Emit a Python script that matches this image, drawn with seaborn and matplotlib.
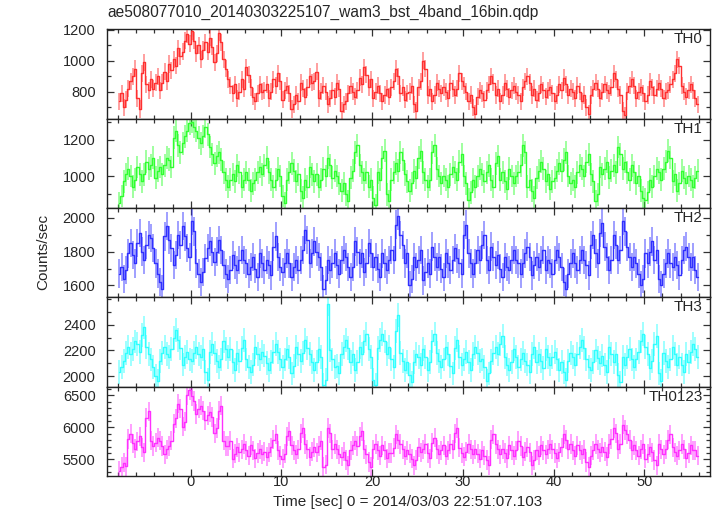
#!/usr/bin/env python3
# coding: utf-8

import numpy as np
import seaborn as sns
import matplotlib
matplotlib.use('Agg')
import matplotlib.pyplot as plt
from matplotlib.ticker import MultipleLocator, FixedLocator


# data: 0.25 s bins, centres from -7.875 to 55.875 s
time = np.arange(-7.875, 56.0, 0.25)

th0 = [740, 790, 700, 750, 820, 870, 900, 950, 760, 690, 920, 990, 850, 810, 880, 820,
       860, 900, 810, 860, 930, 870, 980, 940, 1010, 970, 1080, 1030, 1060, 1130, 1170, 1110,
       1190, 1130, 1050, 1100, 1010, 1070, 1120, 1060, 1150, 1090, 990, 1050, 1180, 1120, 1010, 950,
       880, 840, 790, 850, 760, 800, 880, 820, 960, 910, 830, 770, 740, 790, 850, 800,
       810, 850, 760, 800, 880, 840, 920, 870, 750, 810, 840, 790, 690, 720, 780, 740,
       860, 820, 770, 830, 900, 860, 870, 930, 760, 800, 840, 800, 720, 760, 810, 770,
       860, 820, 680, 720, 740, 790, 840, 800, 770, 810, 890, 850, 960, 910, 830, 880,
       760, 800, 840, 790, 740, 780, 820, 770, 830, 870, 950, 900, 790, 830, 750, 790,
       800, 840, 720, 680, 830, 870, 1000, 950, 780, 820, 740, 780, 860, 820, 790, 830,
       800, 760, 860, 820, 780, 820, 920, 870, 840, 800, 740, 780, 700, 660, 770, 810,
       790, 750, 810, 850, 900, 860, 780, 820, 740, 780, 860, 820, 770, 810, 840, 800,
       780, 740, 830, 870, 900, 860, 780, 820, 750, 790, 850, 810, 770, 810, 830, 790,
       740, 780, 850, 810, 890, 850, 780, 820, 800, 760, 840, 800, 740, 780, 700, 660,
       780, 820, 860, 820, 760, 800, 850, 810, 790, 830, 920, 880, 820, 780, 680, 650,
       800, 840, 880, 840, 760, 800, 830, 790, 740, 780, 870, 830, 780, 820, 860, 820,
       760, 800, 810, 850, 880, 920, 1010, 970, 840, 800, 770, 810, 850, 810, 760, 720]

th1 = [850, 890, 970, 1010, 1040, 1000, 940, 980, 1050, 1010, 970, 1010, 1080, 1040, 1060, 1100,
       990, 1030, 1050, 1010, 1060, 1100, 1090, 1050, 1210, 1250, 1170, 1130, 1180, 1220, 1250, 1290,
       1300, 1270, 1250, 1210, 1180, 1220, 1270, 1230, 1160, 1120, 1070, 1110, 1130, 1090, 1020, 980,
       940, 980, 1010, 970, 1060, 1020, 940, 980, 1020, 980, 920, 960, 980, 1020, 1050, 1010,
       1060, 1100, 1020, 980, 940, 980, 1040, 1000, 890, 850, 980, 1020, 1070, 1030, 970, 1010,
       920, 880, 980, 940, 1050, 1010, 970, 1010, 940, 980, 1040, 1000, 1100, 1060, 990, 1030,
       1000, 960, 920, 960, 900, 860, 990, 1030, 1130, 1170, 1060, 1020, 980, 1020, 940, 980,
       880, 840, 1020, 980, 1100, 1140, 900, 860, 980, 1020, 1070, 1030, 1130, 1090, 1010, 970,
       920, 960, 1030, 990, 1100, 1140, 1020, 980, 940, 980, 1130, 1170, 1040, 1000, 960, 1000,
       980, 940, 1010, 1050, 1020, 980, 1080, 1120, 1000, 960, 870, 910, 980, 940, 1000, 1040,
       1010, 970, 1020, 1060, 980, 940, 1070, 1110, 980, 1020, 970, 930, 1040, 1000, 960, 1000,
       1020, 1060, 1170, 1130, 940, 980, 920, 880, 990, 1030, 1080, 1040, 970, 1010, 930, 970,
       990, 1030, 1070, 1030, 1090, 1130, 1000, 960, 980, 940, 1020, 1060, 1040, 1000, 1080, 1120,
       1010, 970, 860, 900, 1050, 1010, 1040, 1080, 990, 1030, 1060, 1020, 1160, 1120, 1040, 1080,
       1020, 980, 1060, 1020, 960, 1000, 920, 880, 870, 910, 980, 940, 1000, 1040, 1020, 980,
       1040, 1080, 1140, 1100, 970, 1010, 920, 960, 1030, 990, 960, 1000, 980, 940, 990, 1030]

th2 = [1670, 1710, 1640, 1690, 1790, 1850, 1780, 1730, 1850, 1910, 1800, 1750, 1840, 1900, 1880, 1820,
       1730, 1670, 1620, 1580, 1890, 1950, 1870, 1820, 1720, 1780, 1900, 1840, 1950, 1890, 1820, 1770,
       1980, 1920, 1730, 1670, 1620, 1680, 1760, 1820, 1860, 1800, 1740, 1800, 1870, 1810, 1720, 1670,
       1640, 1690, 1780, 1720, 1690, 1750, 1810, 1750, 1730, 1670, 1710, 1770, 1700, 1650, 1790, 1730,
       1690, 1750, 1720, 1660, 1830, 1890, 1770, 1710, 1680, 1730, 1790, 1730, 1650, 1710, 1750, 1690,
       1750, 1810, 1930, 1870, 1730, 1790, 1860, 1800, 1770, 1710, 1580, 1630, 1750, 1690, 1730, 1790,
       1720, 1670, 1750, 1810, 1770, 1710, 1650, 1710, 1860, 1800, 1730, 1790, 1680, 1730, 1850, 1790,
       1710, 1770, 1700, 1650, 1790, 1730, 1690, 1750, 1810, 1750, 1960, 2010, 1900, 1840, 1730, 1790,
       1600, 1640, 1770, 1710, 1750, 1810, 1630, 1680, 1730, 1670, 1830, 1770, 1710, 1770, 1700, 1650,
       1790, 1730, 1690, 1750, 1820, 1760, 1730, 1670, 1900, 1960, 1790, 1730, 1670, 1730, 1810, 1750,
       1840, 1900, 1750, 1690, 1830, 1770, 1720, 1780, 1700, 1650, 1770, 1710, 1690, 1750, 1810, 1750,
       1730, 1670, 1730, 1790, 1830, 1770, 1660, 1720, 1770, 1710, 1750, 1810, 1690, 1750, 1730, 1670,
       1750, 1810, 1770, 1710, 1620, 1580, 1670, 1730, 1790, 1730, 1690, 1750, 1810, 1750, 1720, 1660,
       1840, 1900, 1790, 1730, 1910, 1970, 1830, 1770, 1690, 1750, 1900, 1840, 1750, 1810, 1980, 1920,
       1830, 1770, 1710, 1770, 1730, 1670, 1600, 1640, 1790, 1730, 1800, 1860, 1750, 1810, 1640, 1600,
       1670, 1730, 1790, 1730, 1710, 1770, 1720, 1660, 1750, 1810, 1830, 1770, 1710, 1770, 1690, 1650]

th3 = [2030, 2070, 2120, 2180, 2230, 2170, 2210, 2270, 2250, 2190, 2320, 2380, 2230, 2170, 2130, 2070,
       2000, 1960, 2120, 2180, 2230, 2170, 2150, 2210, 2300, 2360, 2280, 2220, 2090, 2150, 2190, 2130,
       2120, 2180, 2230, 2170, 2150, 2210, 2030, 1970, 2190, 2250, 2180, 2120, 2070, 2130, 2270, 2210,
       2150, 2210, 2110, 2050, 2180, 2120, 2220, 2280, 2130, 2070, 2030, 2090, 2230, 2170, 2130, 2190,
       2160, 2100, 2050, 2110, 2190, 2250, 2190, 2130, 2070, 2130, 2210, 2150, 2020, 2080, 2230, 2170,
       2120, 2180, 2280, 2220, 2170, 2110, 2050, 2110, 2210, 2150, 1930, 1970, 2560, 2200, 2130, 2070,
       2080, 2020, 2170, 2230, 2280, 2220, 2110, 2170, 2050, 2110, 2230, 2170, 2270, 2330, 2210, 2150,
       1970, 1930, 2220, 2280, 2330, 2270, 2170, 2230, 2130, 2070, 2350, 2480, 2180, 2120, 2050, 2110,
       2010, 1950, 2110, 2170, 2150, 2090, 2210, 2150, 2050, 2110, 2270, 2330, 2180, 2120, 2070, 2130,
       2230, 2170, 2080, 2020, 2220, 2280, 2150, 2090, 2130, 2190, 2110, 2050, 2170, 2230, 2180, 2120,
       2130, 2070, 1960, 2020, 2120, 2180, 2230, 2170, 2250, 2310, 2150, 2090, 2050, 2110, 2210, 2150,
       2070, 2130, 2180, 2120, 2090, 2030, 2170, 2230, 2110, 2170, 2120, 2060, 2210, 2150, 2090, 2150,
       2190, 2130, 2050, 2110, 2030, 1970, 2120, 2180, 2150, 2090, 2170, 2230, 2280, 2220, 2130, 2070,
       2050, 2110, 2200, 2140, 2100, 2160, 2090, 2030, 2230, 2170, 2110, 2170, 2010, 1950, 2150, 2090,
       2150, 2210, 2130, 2070, 2130, 2190, 2270, 2330, 2230, 2170, 2060, 2120, 2250, 2310, 2020, 1960,
       2180, 2120, 2070, 2130, 2230, 2170, 2090, 2150, 2090, 2030, 2170, 2110, 2190, 2250, 2210, 2150]

th0123 = [5320, 5380, 5450, 5390, 5820, 5900, 5750, 5670, 5780, 5860, 5690, 5610, 6150, 6250, 5790, 5710,
          5760, 5840, 5790, 5710, 5580, 5660, 5710, 5790, 6060, 6140, 6370, 6290, 6010, 6090, 6500, 6580,
          6490, 6410, 6210, 6290, 6340, 6260, 6110, 6190, 6240, 6160, 5910, 5990, 6260, 6340, 5790, 5710,
          5710, 5790, 5510, 5590, 5690, 5610, 5660, 5740, 5640, 5560, 5720, 5640, 5520, 5600, 5660, 5580,
          5620, 5540, 5610, 5690, 5810, 5890, 5640, 5560, 5510, 5590, 5860, 5940, 5720, 5640, 5580, 5660,
          5910, 5990, 5740, 5660, 5540, 5620, 5690, 5610, 5710, 5790, 5380, 5420, 5990, 5910, 5660, 5740,
          5660, 5580, 5540, 5620, 5490, 5410, 5640, 5720, 5790, 5710, 5860, 5940, 5660, 5580, 5460, 5380,
          5660, 5740, 5640, 5560, 5720, 5640, 5520, 5600, 5600, 5680, 5890, 5810, 5740, 5660, 5560, 5640,
          5590, 5510, 5410, 5490, 5690, 5610, 5660, 5740, 5600, 5520, 5760, 5840, 5660, 5580, 5640, 5720,
          5560, 5640, 5740, 5660, 5910, 5990, 5680, 5600, 5540, 5620, 5740, 5660, 5580, 5660, 5590, 5510,
          5640, 5560, 5490, 5410, 5810, 5890, 5740, 5660, 5580, 5660, 5600, 5520, 5720, 5640, 5560, 5640,
          5790, 5710, 5540, 5620, 5690, 5610, 5410, 5490, 5640, 5560, 5720, 5640, 5580, 5660, 5740, 5660,
          5600, 5520, 5610, 5690, 5890, 5810, 5660, 5740, 5640, 5560, 5720, 5640, 5580, 5660, 5460, 5380,
          5560, 5640, 5740, 5660, 5610, 5690, 5620, 5540, 5740, 5820, 5990, 5910, 5660, 5740, 6040, 5960,
          5890, 5810, 5640, 5720, 5640, 5560, 5660, 5740, 5510, 5590, 5690, 5610, 5490, 5410, 5740, 5660,
          5580, 5660, 5810, 5890, 5690, 5610, 5560, 5640, 5740, 5660, 5520, 5600, 5720, 5640, 5640, 5560]

names = ['TH0', 'TH1', 'TH2', 'TH3', 'TH0123']
series = [th0, th1, th2, th3, th0123]
errors = [55, 63, 84, 93, 150]          # typical 1-sigma error per band
colors = ['#ff3030', '#30ff30', '#3030ff', '#30ffff', '#ff30ff']
ylims = [(628, 1203), (824, 1316), (1530, 2058), (1917, 2615), (5241, 6635)]
yticks = [[800, 1000, 1200], [1000, 1200], [1600, 1800, 2000], [2000, 2200, 2400], [5500, 6000, 6500]]


# plot graphs
sns.set_style('ticks')
plt.rcParams['font.family'] = ['Liberation Sans', 'DejaVu Sans']

fig = plt.figure(figsize=(7.17, 5.16), dpi=100)
gs = fig.add_gridspec(5, 1, left=0.1488, right=0.9902, top=0.9432, bottom=0.0775, hspace=0)

for i, (name, vals, err, c) in enumerate(zip(names, series, errors, colors)):
    ax = fig.add_subplot(gs[i])
    ax.errorbar(time, vals, yerr=err, fmt='none', ecolor=c, alpha=0.5, elinewidth=1.3)
    sns.lineplot(x=time, y=vals, ax=ax, color=c, linewidth=1.0,
                 drawstyle='steps-mid', errorbar=None)
    ax.set_xlim(-9.26, 57.24)
    ax.set_ylim(*ylims[i])
    ax.xaxis.set_major_locator(MultipleLocator(10))
    ax.xaxis.set_minor_locator(MultipleLocator(2))
    ax.yaxis.set_major_locator(FixedLocator(yticks[i]))
    ax.yaxis.set_minor_locator(MultipleLocator(100))
    ax.tick_params(which='both', direction='in', top=True, right=True, width=0.9, color='#333333')
    ax.tick_params(which='major', length=5)
    ax.tick_params(which='minor', length=3)
    ax.tick_params(axis='y', which='major', pad=8, labelsize=10.5)
    ax.tick_params(axis='x', which='major', pad=-0.5, labelsize=10.5)
    for s in ax.spines.values():
        s.set_linewidth(1.0)
        s.set_color('#222222')
    ax.set_xlabel('')
    ax.set_ylabel('')
    if i < 4:
        ax.tick_params(axis='x', labelbottom=False)
    ax.text(0.988, 0.965, name, transform=ax.transAxes, ha='right', va='top', fontsize=11)

fig.text(107 / 717, 1 - 12 / 516, 'ae508077010_20140303225107_wam3_bst_4band_16bin.qdp',
         ha='left', va='center', fontsize=11.2)
fig.text(43 / 717, 1 - 252 / 516, 'Counts/sec', rotation=90, ha='center', va='center', fontsize=11)
fig.text(408 / 717, 1 - 502 / 516, 'Time [sec] 0 = 2014/03/03 22:51:07.103',
         ha='center', va='center', fontsize=11)

plt.savefig('out.png', dpi=100)
plt.clf()
